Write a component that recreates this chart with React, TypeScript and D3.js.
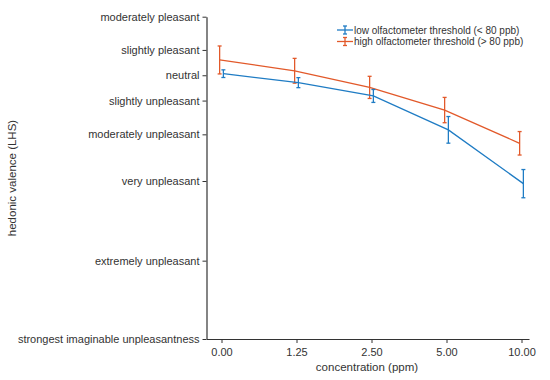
import React, { useRef, useEffect } from "react";
import * as d3 from "d3";

// concentration categories (ppm)
const concentrations = ["0.00", "1.25", "2.50", "5.00", "10.00"];

// labelled hedonic scale anchors
const lhsLabels = [
  "moderately pleasant",
  "slightly pleasant",
  "neutral",
  "slightly unpleasant",
  "moderately unpleasant",
  "very unpleasant",
  "extremely unpleasant",
  "strongest imaginable unpleasantness",
];
const lhsValues = [22.2, 9.6, 0, -9.6, -22.4, -40.1, -70.3, -100];

// low olfactometer threshold (< 80 ppb)
const lowMean = [0.6, -2.8, -7.85, -20.7, -41.1];
const lowErr = [1.45, 1.9, 2.45, 5.05, 5.35];

// high olfactometer threshold (> 80 ppb)
const highMean = [5.8, 1.7, -4.6, -13.2, -25.8];
const highErr = [5.3, 4.7, 4.2, 4.8, 4.45];

const App = () => {
  const ref = useRef<SVGSVGElement>(null);

  useEffect(() => {
    const svg = d3.select(ref.current);
    svg.selectAll("*").remove();

    const width = 550;
    const height = 380;
    const font = "'Liberation Sans', Arial, Helvetica, sans-serif";
    const textColor = "#333";

    svg.attr("width", width).attr("height", height).style("background", "#fff");

    const x = d3.scaleLinear().domain([-0.2, 4.1]).range([206.5, 529]);
    const y = d3.scaleLinear().domain([-100, 22.2]).range([339, 16.7]);

    // y axis
    const yAxis = svg
      .append("g")
      .attr("transform", "translate(206.5,0)")
      .call(
        d3
          .axisLeft(y)
          .tickValues(lhsValues)
          .tickFormat((d, i) => lhsLabels[i])
          .tickSize(4)
          .tickSizeOuter(0)
      );

    // x axis
    const xAxis = svg
      .append("g")
      .attr("transform", "translate(0,339)")
      .call(
        d3
          .axisBottom(x)
          .tickValues(d3.range(concentrations.length))
          .tickFormat((d, i) => concentrations[i])
          .tickSize(4)
          .tickSizeOuter(0)
      );

    [yAxis, xAxis].forEach(g => {
      g.select(".domain").attr("stroke", "#333").attr("stroke-width", 1.2);
      g.selectAll(".tick line").attr("stroke", "#333").attr("stroke-width", 1);
      g.selectAll(".tick text")
        .attr("fill", textColor)
        .style("font-family", font)
        .style("font-size", "11px");
    });
    yAxis.selectAll(".tick text").attr("x", -7);
    xAxis.selectAll(".tick text").attr("y", 9);

    svg.append("text")
      .attr("x", 367)
      .attr("y", 371)
      .attr("text-anchor", "middle")
      .attr("fill", textColor)
      .style("font-family", font)
      .style("font-size", "11.5px")
      .text("concentration (ppm)");

    svg.append("text")
      .attr("transform", "rotate(-90)")
      .attr("x", -178)
      .attr("y", 16)
      .attr("text-anchor", "middle")
      .attr("fill", textColor)
      .style("font-family", font)
      .style("font-size", "11.5px")
      .text("hedonic valence (LHS)");

    const series = [
      { label: "low olfactometer threshold (< 80 ppb)", mean: lowMean, err: lowErr, color: "#1f7cc4", dodge: 0.025 },
      { label: "high olfactometer threshold (> 80 ppb)", mean: highMean, err: highErr, color: "#e2592a", dodge: -0.025 },
    ];

    const cap = 2;

    series.slice().reverse().forEach(s => {
      const pts = s.mean.map((m, i) => ({ i: i + s.dodge, m, e: s.err[i] }));
      const line = d3.line<{ i: number; m: number }>()
        .x(d => x(d.i))
        .y(d => y(d.m));

      svg.append("path")
        .datum(pts)
        .attr("fill", "none")
        .attr("stroke", s.color)
        .attr("stroke-width", 1.3)
        .attr("d", line);

      const bars = svg.append("g")
        .attr("stroke", s.color)
        .attr("stroke-width", 1.3)
        .selectAll("g")
        .data(pts)
        .enter()
        .append("g");

      bars.append("line")
        .attr("x1", d => x(d.i))
        .attr("x2", d => x(d.i))
        .attr("y1", d => y(d.m + d.e))
        .attr("y2", d => y(d.m - d.e));
      bars.append("line")
        .attr("x1", d => x(d.i) - cap)
        .attr("x2", d => x(d.i) + cap)
        .attr("y1", d => y(d.m + d.e))
        .attr("y2", d => y(d.m + d.e));
      bars.append("line")
        .attr("x1", d => x(d.i) - cap)
        .attr("x2", d => x(d.i) + cap)
        .attr("y1", d => y(d.m - d.e))
        .attr("y2", d => y(d.m - d.e));
    });

    // legend
    const legend = svg.append("g").attr("transform", "translate(337,30)");
    series.forEach((s, k) => {
      const row = legend.append("g").attr("transform", `translate(0,${k * 11.5})`);
      row.append("line").attr("x1", 0).attr("x2", 16).attr("y1", 0).attr("y2", 0)
        .attr("stroke", s.color).attr("stroke-width", 1.3);
      row.append("line").attr("x1", 8).attr("x2", 8).attr("y1", -4).attr("y2", 4)
        .attr("stroke", s.color).attr("stroke-width", 1.3);
      row.append("line").attr("x1", 6).attr("x2", 10).attr("y1", -4).attr("y2", -4)
        .attr("stroke", s.color).attr("stroke-width", 1.3);
      row.append("line").attr("x1", 6).attr("x2", 10).attr("y1", 4).attr("y2", 4)
        .attr("stroke", s.color).attr("stroke-width", 1.3);
      row.append("text")
        .attr("x", 17)
        .attr("y", 0)
        .attr("dy", "0.35em")
        .attr("fill", textColor)
        .style("font-family", font)
        .style("font-size", "10px")
        .text(s.label);
    });
  }, []);

  return (
    <svg ref={ref} style={{ position: "absolute", left: 0, top: 0 }}></svg>
  );
};

export default App;
